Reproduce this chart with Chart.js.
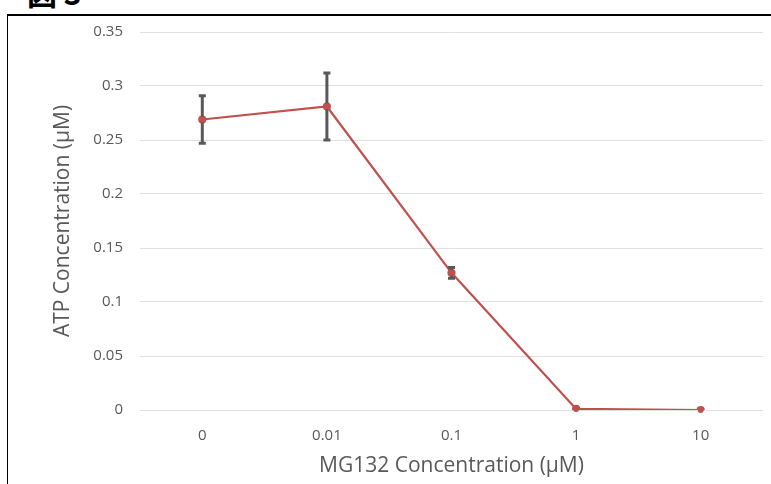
<!DOCTYPE html>
<html>
<head>
<meta charset="utf-8">
<script src="https://cdn.jsdelivr.net/npm/chart.js@4.4.0/dist/chart.umd.min.js"></script>
<style>
  html, body { margin: 0; padding: 0; background: #fff; }
  #wrap { position: relative; width: 771px; height: 484px; overflow: hidden; }
  #frame { position: absolute; left: 7px; top: 14px; right: -10px; bottom: -10px;
           border-left: 1.5px solid #000; border-top: 2px solid #000; }
  #fig { position: absolute; left: 27px; top: -30px; font: bold 30px "Noto Sans CJK JP", sans-serif; color: #000; }
  canvas { position: absolute; left: 0; top: 0; }
</style>
</head>
<body>
<div id="wrap">
  <div id="fig">図 3</div>
  <div id="frame"></div>
  <canvas id="atp-chart" width="771" height="484"></canvas>
</div>
<script>
// MG132 dose vs ATP level
const doses = ['0', '0.01', '0.1', '1', '10'];
const atpMeans = [0.269, 0.281, 0.127, 0.001, 0.0];
const atpErrors = [0.022, 0.031, 0.005, 0, 0];
const yTicks = [0, 0.05, 0.1, 0.15, 0.2, 0.25, 0.3, 0.35];

const tickColor = '#595959';
const baseFont = '"Open Sans", sans-serif';

// error bars drawn on top of the line, using the chart scales
const errorBarPlugin = {
    id: 'errorBars',
    afterDatasetsDraw(chart) {
        const ctx = chart.ctx;
        const xScale = chart.scales.x;
        const yScale = chart.scales.y;
        ctx.save();
        ctx.strokeStyle = '#595959';
        ctx.lineWidth = 3;
        atpMeans.forEach((v, i) => {
            const err = atpErrors[i];
            if (!err) return;
            const x = xScale.getPixelForValue(i);
            const yTop = yScale.getPixelForValue(v + err);
            const yBot = yScale.getPixelForValue(v - err);
            ctx.beginPath();
            ctx.moveTo(x, yTop);
            ctx.lineTo(x, yBot);
            ctx.moveTo(x - 3.5, yTop);
            ctx.lineTo(x + 3.5, yTop);
            ctx.moveTo(x - 3.5, yBot);
            ctx.lineTo(x + 3.5, yBot);
            ctx.stroke();
        });
        // redraw the points above the bars
        const meta = chart.getDatasetMeta(0);
        ctx.fillStyle = '#c0504d';
        meta.data.forEach(pt => {
            ctx.beginPath();
            ctx.arc(pt.x, pt.y, 3, 0, Math.PI * 2);
            ctx.fill();
        });
        ctx.restore();
    }
};

new Chart(document.getElementById('atp-chart').getContext('2d'), {
    type: 'line',
    data: {
        labels: doses,
        datasets: [{
            data: atpMeans,
            borderColor: '#c0504d',
            backgroundColor: '#c0504d',
            borderWidth: 2.2,
            pointRadius: 3,
            pointHoverRadius: 3,
            tension: 0
        }]
    },
    options: {
        responsive: false,
        animation: false,
        layout: { padding: { left: 50, right: 8, top: 32, bottom: 0 } },
        plugins: {
            legend: { display: false },
            tooltip: { enabled: false }
        },
        scales: {
            x: {
                offset: true,
                grid: { display: false, drawTicks: false },
                border: { display: false },
                ticks: { color: tickColor, font: { family: baseFont, size: 15 }, padding: 17 },
                title: {
                    display: true,
                    text: 'MG132 Concentration (µM)',
                    color: tickColor,
                    font: { family: baseFont, size: 21 },
                    padding: { top: 4, bottom: 5 }
                },
                afterFit(scale) { scale.height = 74; }
            },
            y: {
                min: 0,
                max: 0.35,
                afterBuildTicks(scale) { scale.ticks = yTicks.map(v => ({ value: v })); },
                grid: { color: '#e0e0e0', lineWidth: 1, drawTicks: false },
                border: { display: false },
                ticks: {
                    color: tickColor,
                    font: { family: baseFont, size: 15 },
                    padding: 17,
                    callback: v => String(Number(v.toFixed(2)))
                },
                title: {
                    display: true,
                    text: 'ATP Concentration (µM)',
                    color: tickColor,
                    font: { family: baseFont, size: 21 },
                    padding: 0
                },
                afterFit(scale) { scale.width = 90; }
            }
        }
    },
    plugins: [errorBarPlugin]
});
</script>
</body>
</html>
